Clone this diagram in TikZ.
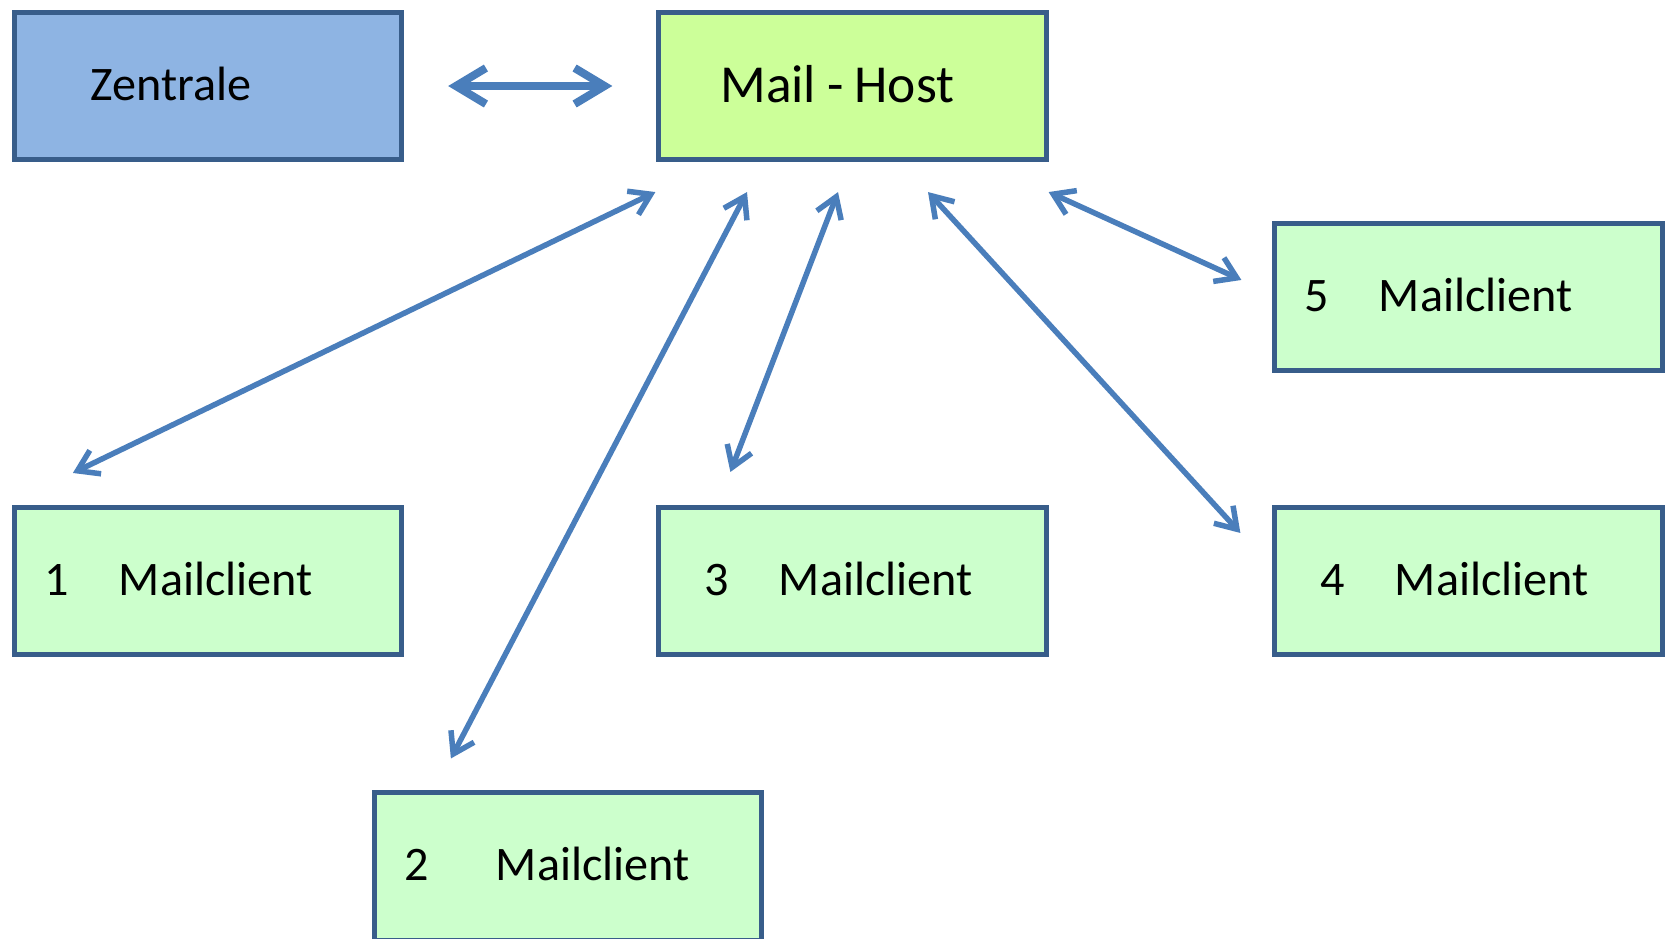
\documentclass[tikz,border=0pt]{standalone}
\usepackage{fontspec}
\setmainfont{Carlito}
\usetikzlibrary{arrows.meta}
\definecolor{boxline}{HTML}{385D8A}
\definecolor{zfill}{HTML}{8EB4E3}
\definecolor{hostfill}{HTML}{CCFF99}
\definecolor{clientfill}{HTML}{CCFFCC}
\definecolor{linkblue}{HTML}{4A7EBB}
\newcommand\clientlabel[2][0.74cm]{\makebox[#1][l]{#2}Mailclient}

\begin{document}
\begin{tikzpicture}[x=0.01cm,y=-0.01cm,
  box/.style={draw=boxline, line width=0.05cm, minimum width=3.87cm, minimum height=1.47cm,
    inner sep=0pt, align=left, text width=#1, text depth=0.05cm, font=\fontsize{13.7}{16}\selectfont},
  client/.style={box=#1, fill=clientfill},
  link/.style={draw=linkblue, line width=0.055cm,
    {Straight Barb[length=0.2cm,width=0.26cm]}-{Straight Barb[length=0.2cm,width=0.26cm]}},
  biglink/.style={link, line width=0.08cm,
    {Straight Barb[length=0.3cm,width=0.36cm]}-{Straight Barb[length=0.3cm,width=0.36cm]}},
]
\path[use as bounding box, clip] (0,0) rectangle (1667,938);

\node[box=2.34cm, fill=zfill] (zentrale) at (208,86) {Zentrale};
\node[box=2.64cm, fill=hostfill, font=\fontsize{15.2}{18}\selectfont] (host) at (852.5,86)
  {Mail\hspace{0.11cm}-\hspace{0.11cm}Host};
\node[client=3.27cm] (c5) at (1468.5,297) {\clientlabel{5}};
\node[client=3.26cm] (c1) at (208,581) {\clientlabel{1}};
\node[client=2.95cm] (c3) at (852.5,581) {\clientlabel{3}};
\node[client=2.95cm] (c4) at (1468.5,581) {\clientlabel{4}};
\node[client=3.26cm] (c2) at (568,866.5) {\clientlabel[0.91cm]{2}};

% Verbindungen
\draw[biglink, shorten <=0.44cm, shorten >=0.44cm] (zentrale.east) -- (host.west);
\draw[link] ([shift={(-1,30)}]host.south west) -- ([shift={(61,-32)}]c1.north west);
\draw[link] ([shift={(-105.5,30)}]host.south) -- ([shift={(79,-32)}]c2.north west);
\draw[link] ([shift={(-14.5,30)}]host.south) -- ([shift={(74,-33)}]c3.north west);
\draw[link] ([shift={(75.5,30)}]host.south) -- ([shift={(-32,28)}]c4.north west);
\draw[link] ([shift={(0,30)}]host.south east) -- ([shift={(-31,59)}]c5.north west);
\end{tikzpicture}
\end{document}
